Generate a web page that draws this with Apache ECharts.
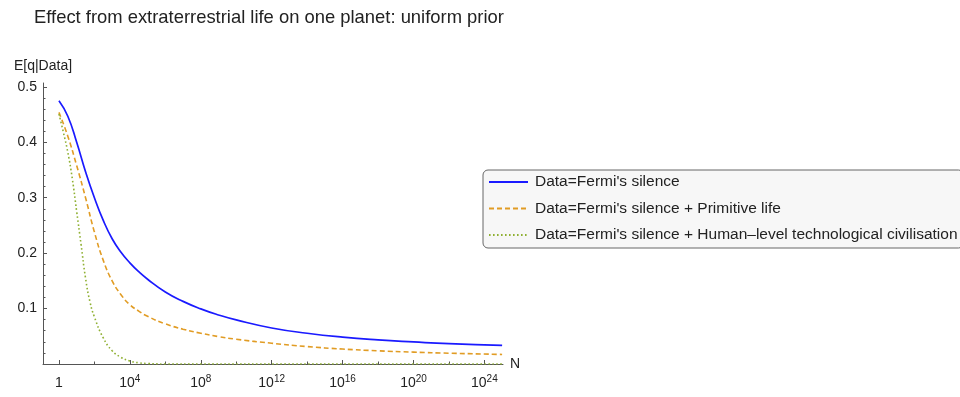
<!DOCTYPE html>
<html>
<head>
<meta charset="utf-8">
<script src="https://cdn.jsdelivr.net/npm/echarts@6/dist/echarts.min.js"></script>
<style>html,body{margin:0;padding:0;background:#fff}#c{width:960px;height:397px}</style>
</head>
<body>
<div id="c"></div>
<script>
// x values are log10(N)
const blueLog  = [0, 0.5, 1, 1.5, 2, 2.5, 3, 3.5, 4, 4.5, 5, 6, 7, 8, 9, 10, 12, 14, 16, 18, 20, 22, 25];
const blueVal  = [0.475, 0.447, 0.400, 0.347, 0.300, 0.259, 0.226, 0.2015, 0.1825, 0.1665, 0.153, 0.130, 0.113, 0.0995, 0.0885, 0.0795, 0.065, 0.0555, 0.0485, 0.0435, 0.0398, 0.0366, 0.0335];
const orangeLog = [0, 0.5, 1, 1.5, 2, 2.5, 3, 3.5, 4, 4.5, 5, 6, 7, 8, 9, 10, 12, 14, 16, 18, 20, 22, 25];
const orangeVal = [0.454, 0.411, 0.358, 0.300, 0.238, 0.187, 0.150, 0.125, 0.107, 0.0955, 0.086, 0.0725, 0.0628, 0.0555, 0.0495, 0.0447, 0.0375, 0.0315, 0.027, 0.0238, 0.0214, 0.0195, 0.0172];
const greenLog = [0, 0.25, 0.5, 0.75, 1, 1.25, 1.5, 1.75, 2, 2.5, 3, 3.5, 4, 4.5, 5, 6, 8, 12, 16, 20, 25];
const greenVal = [0.451, 0.418, 0.382, 0.335, 0.275, 0.215, 0.155, 0.112, 0.085, 0.047, 0.024, 0.012, 0.0055, 0.0022, 0.0008, 0.0001, 0, 0, 0, 0, 0];
const seriesNames = ["Data=Fermi's silence", "Data=Fermi's silence + Primitive life", "Data=Fermi's silence + Human\u2013level technological civilisation"];
const xMajorTicks = [0, 4, 8, 12, 16, 20, 24];
const xMinorTicks = [2, 6, 10, 14, 18, 22];
const yMajorTicks = [0.1, 0.2, 0.3, 0.4, 0.5];
const yMinorTicks = [0.02, 0.04, 0.06, 0.08, 0.12, 0.14, 0.16, 0.18, 0.22, 0.24, 0.26, 0.28, 0.32, 0.34, 0.36, 0.38, 0.42, 0.44, 0.46, 0.48];
const titleText = "Effect from extraterrestrial life on one planet: uniform prior";

const FONT = "'Liberation Sans', Arial, Helvetica, sans-serif";
const pairs = (xs, ys) => xs.map((x, i) => [x, ys[i]]);
const XMIN = -0.9, XMAX = 25.05, YMIN = 0, YMAX = 0.507;
const axisColor = '#555';
const gridRect = {left: 43, right: 457, top: 83, bottom: 33, containLabel: false};

const chart = echarts.init(document.getElementById('c'), null, {renderer: 'canvas'});
chart.setOption({
  animation: false,
  backgroundColor: '#fff',
  textStyle: {fontFamily: FONT},
  title: {
    text: titleText, left: 34, top: 9, padding: 0,
    textStyle: {fontSize: 18.4, fontWeight: 'normal', color: '#222', fontFamily: FONT}
  },
  grid: [Object.assign({}, gridRect), Object.assign({}, gridRect)],
  legend: {
    orient: 'vertical', left: 483, top: 170,
    padding: [4, 6, 5, 5],
    itemWidth: 39, itemHeight: 14, itemGap: 10.5,
    backgroundColor: '#f7f7f7', borderColor: '#666', borderWidth: 1, borderRadius: 5,
    itemStyle: {opacity: 0},
    textStyle: {fontSize: 15.5, color: '#222', fontFamily: FONT, padding: [0, 0, 0, 2]},
    data: seriesNames
  },
  xAxis: [{
    gridIndex: 0, type: 'value', min: XMIN, max: XMAX,
    name: 'N', nameLocation: 'end', nameGap: 7,
    nameTextStyle: {fontSize: 14, color: '#222', fontFamily: FONT},
    axisLine: {show: true, onZero: false, lineStyle: {color: axisColor, width: 1}},
    splitLine: {show: false},
    axisTick: {show: true, inside: true, length: 4, customValues: xMajorTicks, lineStyle: {color: axisColor}},
    axisLabel: {
      show: true, margin: 10, customValues: xMajorTicks,
      formatter: v => v === 0 ? '{b|1}' : '{b|10}{s|' + v + '}',
      rich: {
        b: {fontSize: 14, lineHeight: 18, color: '#222', fontFamily: FONT},
        s: {fontSize: 10, lineHeight: 10, verticalAlign: 'top', color: '#222', fontFamily: FONT}
      }
    }
  }, {
    gridIndex: 1, type: 'value', min: XMIN, max: XMAX, position: 'bottom',
    axisLine: {show: false, onZero: false}, splitLine: {show: false}, axisLabel: {show: false},
    axisTick: {show: true, inside: true, length: 2.5, customValues: xMinorTicks, lineStyle: {color: axisColor}}
  }],
  yAxis: [{
    gridIndex: 0, type: 'value', min: YMIN, max: YMAX,
    name: 'E[q|Data]', nameLocation: 'end', nameGap: 10,
    nameTextStyle: {fontSize: 14, color: '#222', fontFamily: FONT},
    axisLine: {show: true, onZero: false, lineStyle: {color: axisColor, width: 1}},
    splitLine: {show: false},
    axisTick: {show: true, inside: true, length: 4, customValues: yMajorTicks, lineStyle: {color: axisColor}},
    axisLabel: {
      show: true, margin: 6, customValues: yMajorTicks,
      formatter: v => v.toFixed(1),
      fontSize: 14, color: '#222', fontFamily: FONT
    }
  }, {
    gridIndex: 1, type: 'value', min: YMIN, max: YMAX, position: 'left',
    axisLine: {show: false, onZero: false}, splitLine: {show: false}, axisLabel: {show: false},
    axisTick: {show: true, inside: true, length: 2.5, customValues: yMinorTicks, lineStyle: {color: axisColor}}
  }],
  series: [{
    name: seriesNames[0], type: 'line', data: pairs(blueLog, blueVal),
    xAxisIndex: 0, yAxisIndex: 0,
    showSymbol: false, symbol: 'none', smooth: 0.5,
    lineStyle: {color: '#1a1aff', width: 1.7, type: 'solid'},
    itemStyle: {color: '#1a1aff'}
  }, {
    name: seriesNames[1], type: 'line', data: pairs(orangeLog, orangeVal),
    xAxisIndex: 0, yAxisIndex: 0,
    showSymbol: false, symbol: 'none', smooth: 0.5,
    lineStyle: {color: '#e19c24', width: 1.6, type: [5, 3]},
    itemStyle: {color: '#e19c24'}
  }, {
    name: seriesNames[2], type: 'line', data: pairs(greenLog, greenVal),
    xAxisIndex: 0, yAxisIndex: 0,
    showSymbol: false, symbol: 'none', smooth: 0.5,
    lineStyle: {color: '#8fb032', width: 1.6, type: [1.6, 2.4]},
    itemStyle: {color: '#8fb032'}
  }]
});
</script>
</body>
</html>
